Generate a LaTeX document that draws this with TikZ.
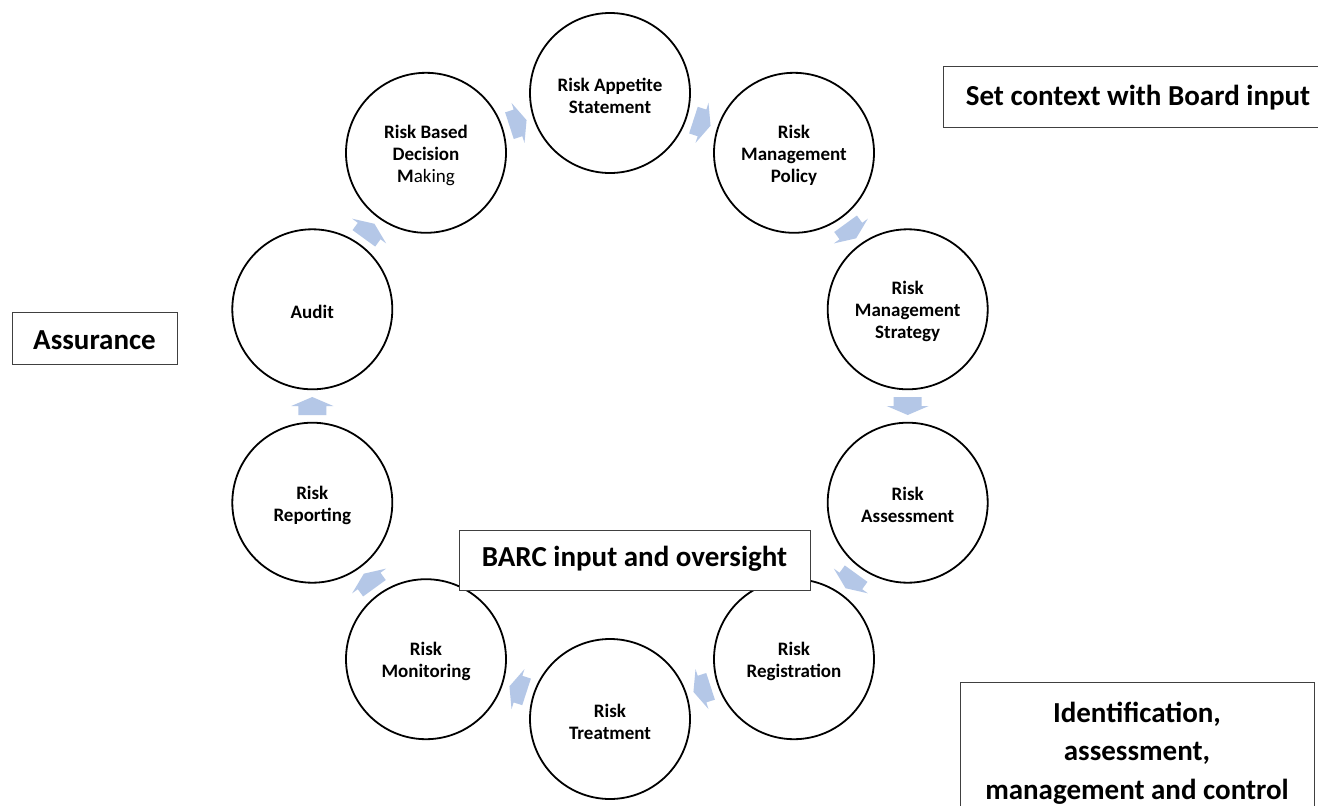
\documentclass[tikz,border=0pt]{standalone}
\usepackage{fontspec}
\setmainfont{Carlito}
\usetikzlibrary{calc}
\definecolor{arrowblue}{HTML}{B4C7E7}
\definecolor{boxline}{HTML}{404040}
\newcommand\cyclearrow[3]{\fill[arrowblue,shift={($(#1)!0.5!(#2)$)},rotate=#3]
  (-9,-14) -- (0,-14) -- (0,-21) -- (9,0) -- (0,21) -- (0,14) -- (-9,14) -- cycle;}
\begin{document}
\begin{tikzpicture}[x=1pt,y=-1pt,
  stage/.style={circle,draw=black,line width=1.8pt,minimum size=160pt,inner sep=0pt},
  stagetext/.style={align=center,inner sep=0pt,yshift=-2.5pt,font=\fontsize{19}{22}\selectfont\bfseries},
  labelbox/.style={draw=boxline,line width=1.3pt,fill=white,inner sep=0pt},
  labeltext/.style={align=center,inner sep=0pt,font=\fontsize{29}{38.5}\selectfont\bfseries}]
\useasboundingbox (0,0) rectangle (1318,806);
\clip (0,0) rectangle (1318,806);
\fill[white] (0,0) rectangle (1318,806);
% stages
\node[stage] (ras) at (610,93) {};
\node[stage] (rmp) at (794,152.8) {};
\node[stage] (rms) at (907.7,309.3) {};
\node[stage] (ra) at (907.7,502.7) {};
\node[stage] (rr) at (794,659.2) {};
\node[stage] (rt) at (610,719) {};
\node[stage] (rmo) at (426,659.2) {};
\node[stage] (rrep) at (312.3,502.7) {};
\node[stage] (aud) at (312.3,309.3) {};
\node[stage] (rbdm) at (426,152.8) {};
\node[stagetext] (ras-t) at (ras) {Risk Appetite\\Statement};
\node[stagetext] (rmp-t) at (rmp) {Risk\\Management\\Policy};
\node[stagetext] (rms-t) at (rms) {Risk\\Management\\Strategy};
\node[stagetext] (ra-t) at (ra) {Risk\\Assessment};
\node[stagetext] (rr-t) at (rr) {Risk\\Registration};
\node[stagetext] (rt-t) at (rt) {Risk\\Treatment};
\node[stagetext] (rmo-t) at (rmo) {Risk\\Monitoring};
\node[stagetext] (rrep-t) at (rrep) {Risk\\Reporting};
\node[stagetext] (aud-t) at (aud) {Audit};
\node[stagetext] (rbdm-t) at (rbdm) {Risk Based\\Decision\\{\bfseries M}{\mdseries aking}};
% cycle arrows
\cyclearrow{ras}{rmp}{-18}
\cyclearrow{rmp}{rms}{-54}
\cyclearrow{rms}{ra}{-90}
\cyclearrow{ra}{rr}{-126}
\cyclearrow{rr}{rt}{-162}
\cyclearrow{rt}{rmo}{-198}
\cyclearrow{rmo}{rrep}{-234}
\cyclearrow{rrep}{aud}{-270}
\cyclearrow{aud}{rbdm}{-306}
\cyclearrow{rbdm}{ras}{-342}
% label boxes
\node[labelbox,anchor=north west,minimum width=400pt,minimum height=61pt] (ctxbox) at (943,66) {};
\node[labeltext] (ctx) at (1138,97.5) {Set context with Board input};
\node[labelbox,anchor=north west,minimum width=165pt,minimum height=52pt] (assbox) at (12,312) {};
\node[labeltext] (ass) at (94.5,340) {Assurance};
\node[labelbox,anchor=north west,minimum width=351pt,minimum height=60pt] (barcbox) at (459,530) {};
\node[labeltext] (barc) at (634.5,559) {BARC input and oversight};
\node[labelbox,anchor=north west,minimum width=354pt,minimum height=160pt] (idbox) at (960,682) {};
\node[labeltext] (id) at (1137,753) {Identification,\\assessment,\\management and control};
\end{tikzpicture}
\end{document}
